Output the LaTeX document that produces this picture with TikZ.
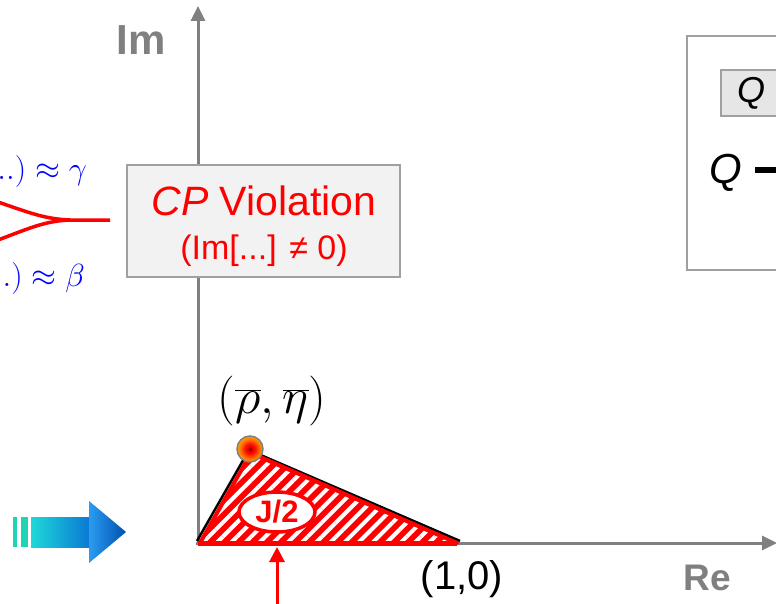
\documentclass[tikz,border=0pt]{standalone}
\usepackage{fix-cm}
\usepackage{fontspec}
\setmainfont{Liberation Sans}
\usetikzlibrary{arrows.meta,patterns.meta,shapes.geometric}
\definecolor{axisgray}{HTML}{808080}
\definecolor{boxgray}{HTML}{F2F2F2}
\definecolor{qgray}{HTML}{E6E6E6}
\definecolor{bordergray}{HTML}{A0A0A0}
\definecolor{stripecol}{HTML}{1ED4B4}
\definecolor{bodyleft}{HTML}{1ED8D8}
\definecolor{bodyright}{HTML}{0A78D4}
\definecolor{headleft}{HTML}{2A9CF0}
\definecolor{headright}{HTML}{0050B0}
\newcommand\myfs[1]{\fontsize{#1}{#1}\selectfont}
\pgfdeclareradialshading{dotshade}{\pgfpoint{0bp}{0bp}}{color(0bp)=(red!45!black); color(4bp)=(red!85!black); color(10bp)=(red!85!orange); color(18bp)=(orange!85!red); color(28bp)=(orange!50!yellow); color(38bp)=(yellow!90!orange); color(50bp)=(yellow!90!orange)}
\tikzset{
  axisline/.style={draw=axisgray, line width=3pt, -{Triangle[length=15pt,width=14pt]}},
  axislabel/.style={text=axisgray, font=\bfseries, inner sep=0pt},
  graybox/.style={draw=bordergray, line width=1.2pt},
  redcurve/.style={draw=red, line width=3.5pt},
  bluetext/.style={text=blue, inner sep=0pt},
}
\begin{document}
\begin{tikzpicture}[x=1pt,y=-1pt]
\clip (0,0) rectangle (776,604);
\fill[white] (0,0) rectangle (776,604);

% axes
\coordinate (O) at (198,545);
\coordinate (imtop) at (198,6);
\coordinate (reO) at (196,543);
\coordinate (retip) at (777,543);
\draw[axisline] (O) -- (imtop);
\draw[axisline] (reO) -- (retip);
\node[axislabel, font=\bfseries\myfs{42}] (imlab) at (141,40) {Im};
\node[axislabel, font=\bfseries\myfs{37}] (relab) at (707,578) {Re};

% CP violation box
\node[graybox, fill=boxgray, minimum width=273pt, minimum height=112pt, inner sep=0pt] (cpbox) at (263.5,221) {};
\node[text=red, inner sep=0pt] (cp1) at (264,201) {\myfs{41}\textit{CP} Violation};
\node[text=red, inner sep=0pt] (cp2) at (264,251) {\myfs{34}(Im[...] ≠ 0)};

% right box
\draw[graybox, fill=white] (687,36) rectangle (800,270);
\node[graybox, fill=qgray, minimum width=80pt, minimum height=46pt, inner sep=0pt] (qbox) at (761,93) {};
\node[inner sep=0pt] (qsmall) at (751,93) {\myfs{36}\textit{Q}};
\node[inner sep=0pt, anchor=base] (qbig) at (726,184) {\myfs{42}\textit{Q}};
\coordinate (dashL) at (755,170);
\coordinate (dashR) at (780,170);
\draw[black, line width=6pt] (dashL) -- (dashR);

% left red curves
\coordinate (c1) at (-2,202);
\coordinate (c2) at (-2,240);
\coordinate (cm) at (70,220);
\coordinate (ce) at (110,220);
\draw[redcurve] (c1) .. controls (30,213) and (45,219) .. (cm) -- (ce);
\draw[redcurve] (c2) .. controls (30,228) and (45,221) .. (cm);

% blue texts (cut at the left edge as in the reference)
\node[bluetext, anchor=base east] (gam) at (87,180) {\myfs{32}$...)\approx\gamma$};
\node[bluetext, anchor=base east] (bet) at (85,286) {\myfs{32}$...)\approx\beta$};

% gradient arrow
\fill[stripecol] (13,517) rectangle (17,547);
\fill[stripecol] (21,517) rectangle (28,547);
\shade[left color=bodyleft, right color=bodyright] (31,517) rectangle (90,547);
\shade[left color=headleft, right color=headright] (89,501) -- (126,532) -- (89,563) -- cycle;

% triangle
\coordinate (A) at (200,543);
\coordinate (P) at (251,453);
\coordinate (B) at (457,543);
\fill[red] (A) -- (P) -- (B) -- cycle;
\fill[pattern={Lines[angle=45,distance=10pt,line width=4pt]}, pattern color=white] (A) -- (P) -- (B) -- cycle;
\coordinate (Ab) at (197,541);
\coordinate (Pb) at (249,450);
\coordinate (Bb) at (460,541);
\draw[black, line width=2.5pt] (Ab) -- (Pb) -- (Bb);
\draw[red, line width=4pt, line join=round] (A) -- (P) -- (B) -- cycle;
\draw[red, line width=5pt] (198,543) -- (B);

% J/2 ellipse
\node[ellipse, draw=red, line width=3.5pt, fill=white, minimum width=76pt, minimum height=40pt, inner sep=0pt, text=red] (J) at (277,512) {\bfseries\myfs{31}J/2};

% dot
\coordinate (dot) at (250,449);
\shade[shading=dotshade] (dot) circle (13);
\draw[axisgray, line width=1.5pt] (dot) circle (13);

% labels
\node[inner sep=0pt] (rhoeta) at (272,401) {\myfs{50}$(\overline{\rho},\overline{\eta})$};
\node[inner sep=0pt] (onezero) at (462,579) {\myfs{40}(1,0)};

% red arrow
\coordinate (arrbot) at (277,606);
\coordinate (arrtop) at (277,547);
\draw[red, line width=3pt, -{Triangle[length=15pt,width=15pt]}] (arrbot) -- (arrtop);
\end{tikzpicture}
\end{document}
